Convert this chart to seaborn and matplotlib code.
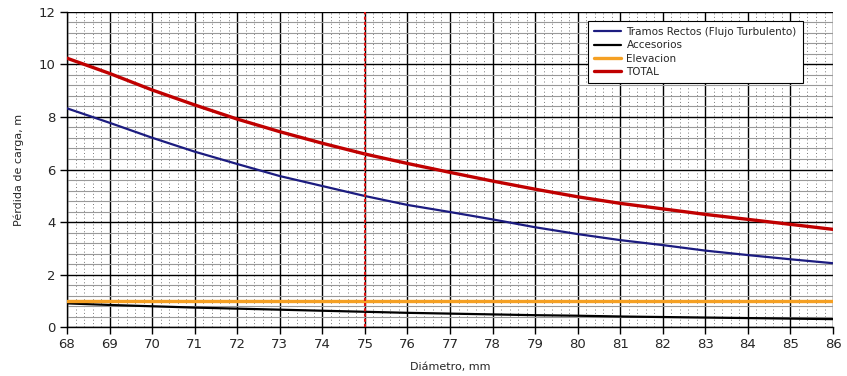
import matplotlib
matplotlib.use("Agg")
import matplotlib.pyplot as plt
import numpy as np
import pandas as pd
import seaborn as sns
from matplotlib.ticker import MultipleLocator

# Datos
diametro = [68, 69, 70, 71, 72, 73, 74, 75, 76, 77, 78, 79, 80, 81, 82, 83, 84, 85, 86]
tramos = [8.33, 7.78, 7.21, 6.68, 6.21, 5.75, 5.37, 4.99, 4.65, 4.38,
          4.10, 3.80, 3.54, 3.31, 3.12, 2.91, 2.74, 2.58, 2.43]
accesorios = [0.90, 0.84, 0.79, 0.74, 0.70, 0.66, 0.62, 0.58, 0.54, 0.51,
              0.48, 0.45, 0.43, 0.40, 0.38, 0.36, 0.34, 0.32, 0.30]
elevacion = [1.0] * 19
total = [10.24, 9.66, 9.03, 8.46, 7.92, 7.44, 7.00, 6.59, 6.23, 5.89,
         5.56, 5.25, 4.96, 4.71, 4.50, 4.29, 4.10, 3.91, 3.72]
diametro_sel = 75

series = [
    ("Tramos Rectos (Flujo Turbulento)", tramos, "#1c1c80", 1.6),
    ("Accesorios", accesorios, "#000000", 1.6),
    ("Elevacion", elevacion, "#f5a023", 2.4),
    ("TOTAL", total, "#c00000", 2.4),
]

sns.set_theme(style="white")
plt.rcParams["font.family"] = ["DejaVu Sans"]

fig = plt.figure(figsize=(8.47, 3.76), dpi=100)
ax = fig.add_axes([0.0791, 0.1303, 0.9044, 0.8378])

for nombre, valores, color, lw in series:
    df = pd.DataFrame({"Diametro": diametro, "Perdida": valores})
    sns.lineplot(data=df, x="Diametro", y="Perdida", ax=ax, color=color,
                 linewidth=lw, label=nombre, zorder=3)

ax.axvline(diametro_sel, color="#dd1111", linestyle=(0, (1.5, 1)),
           linewidth=1.5, zorder=4)

ax.set_xlim(68, 86)
ax.set_ylim(0, 12)
ax.xaxis.set_major_locator(MultipleLocator(1))
ax.xaxis.set_minor_locator(MultipleLocator(0.2))
ax.yaxis.set_major_locator(MultipleLocator(2))
ax.yaxis.set_minor_locator(MultipleLocator(0.4))

ax.grid(which="major", color="black", linewidth=1.0, linestyle="-", zorder=1)
ax.grid(which="minor", axis="x", color="#777777", linewidth=0.7,
        linestyle=(0, (1, 2.5)), zorder=0)
ax.grid(which="minor", axis="y", color="#999999", linewidth=0.8,
        linestyle="-", zorder=0)
ax.set_axisbelow(True)

for s in ["top", "right"]:
    ax.spines[s].set_visible(False)
for s in ["left", "bottom"]:
    ax.spines[s].set_color("black")
    ax.spines[s].set_linewidth(1.0)

ax.tick_params(axis="both", which="major", direction="out", length=5,
               width=1, color="black", labelsize=9.5, pad=3,
               bottom=True, left=True)
ax.tick_params(axis="both", which="minor", length=0)

ax.set_xlabel("Diámetro, mm", fontsize=8, labelpad=8)
ax.set_ylabel("Pérdida de carga, m", fontsize=8, labelpad=11)

leg = ax.legend(loc="upper left", bbox_to_anchor=(0.680, 0.972), fontsize=7.5,
                frameon=True, fancybox=False, framealpha=1, edgecolor="black",
                handlelength=2.6, labelspacing=0.32, borderpad=0.6,
                borderaxespad=0, handletextpad=0.5)
leg.get_frame().set_linewidth(0.8)
leg.set_zorder(5)

plt.savefig("out.png", dpi=100)
